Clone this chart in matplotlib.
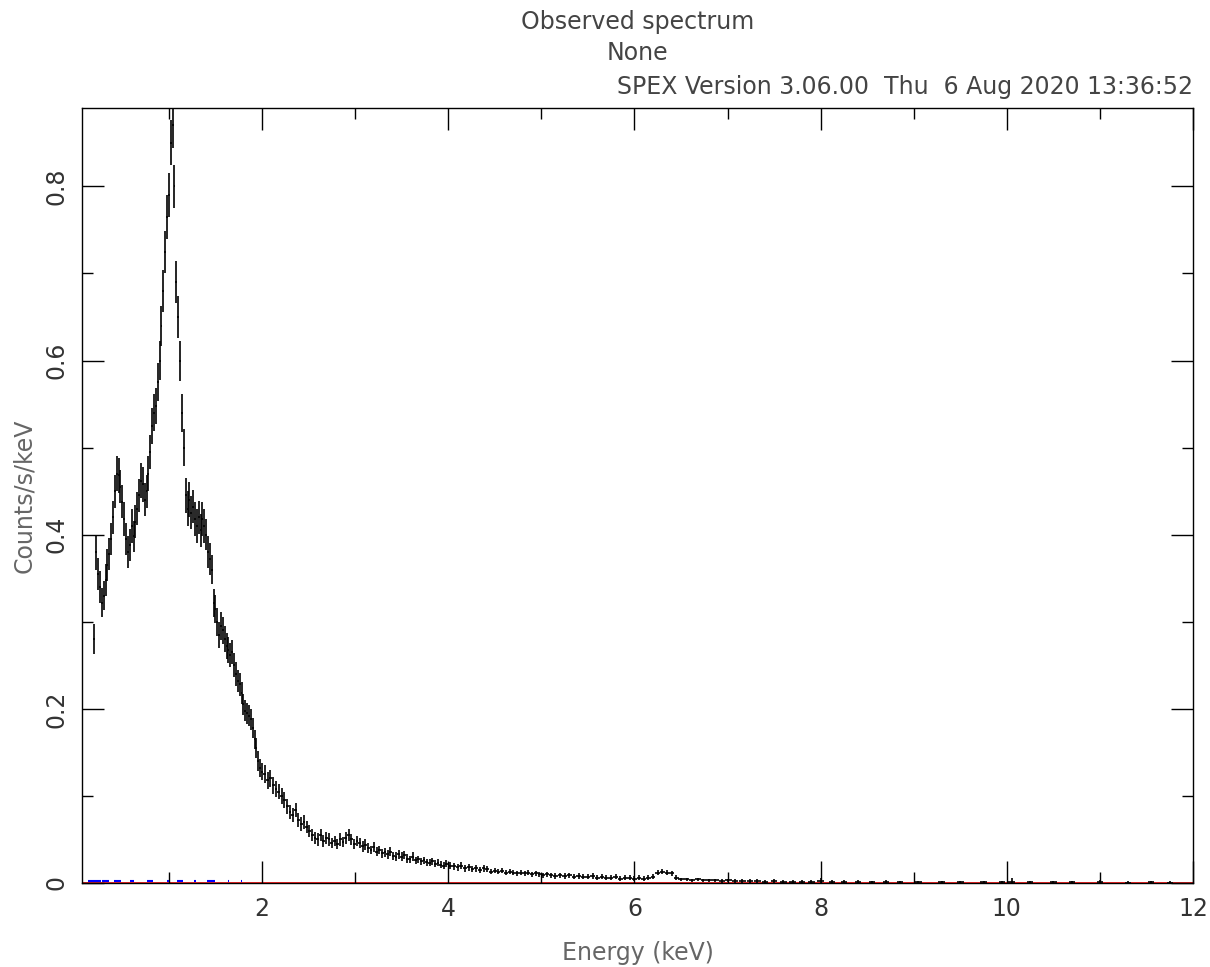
import numpy as np
from matplotlib import pyplot as plt
from matplotlib.ticker import MultipleLocator

# observed spectrum (keV, counts/s/keV, 1-sigma)
energy = [
    0.20, 0.22, 0.24, 0.26, 0.28, 0.30, 0.32, 0.34, 0.36, 0.38,
    0.40, 0.42, 0.44, 0.46, 0.48, 0.50, 0.52, 0.54, 0.56, 0.58,
    0.60, 0.62, 0.64, 0.66, 0.68, 0.70, 0.72, 0.74, 0.76, 0.78,
    0.80, 0.82, 0.84, 0.86, 0.88, 0.90, 0.92, 0.94, 0.96, 0.98,
    1.00, 1.02, 1.04, 1.06, 1.08, 1.10, 1.12, 1.14, 1.16, 1.18,
    1.20, 1.22, 1.24, 1.26, 1.28, 1.30, 1.32, 1.34, 1.36, 1.38,
    1.40, 1.42, 1.44, 1.46, 1.48, 1.50, 1.52, 1.54, 1.56, 1.58,
    1.60, 1.62, 1.64, 1.66, 1.68, 1.70, 1.72, 1.74, 1.76, 1.78,
    1.80, 1.82, 1.84, 1.86, 1.88, 1.90, 1.92, 1.94, 1.96, 1.98,
    2.00, 2.03, 2.06, 2.09, 2.12, 2.15, 2.18, 2.21, 2.24, 2.27,
    2.30, 2.33, 2.36, 2.39, 2.42, 2.45, 2.48, 2.51, 2.54, 2.57,
    2.60, 2.63, 2.66, 2.69, 2.72, 2.75, 2.78, 2.81, 2.84, 2.87,
    2.90, 2.93, 2.96, 2.99, 3.02, 3.05, 3.08, 3.11, 3.14, 3.17,
    3.20, 3.23, 3.26, 3.29, 3.32, 3.35, 3.38, 3.41, 3.44, 3.47,
    3.50, 3.53, 3.56, 3.59, 3.62, 3.65, 3.68, 3.71, 3.74, 3.77,
    3.80, 3.83, 3.86, 3.89, 3.92, 3.95, 3.98, 4.02, 4.06, 4.10,
    4.14, 4.18, 4.22, 4.26, 4.30, 4.34, 4.38, 4.42, 4.46, 4.50,
    4.54, 4.58, 4.62, 4.66, 4.70, 4.74, 4.78, 4.82, 4.86, 4.90,
    4.94, 4.98, 5.02, 5.06, 5.10, 5.15, 5.20, 5.25, 5.30, 5.35,
    5.40, 5.45, 5.50, 5.55, 5.60, 5.65, 5.70, 5.75, 5.80, 5.85,
    5.90, 5.95, 6.00, 6.05, 6.10, 6.15, 6.20, 6.25, 6.30, 6.35,
    6.40, 6.45, 6.50, 6.56, 6.62, 6.68, 6.74, 6.80, 6.87, 6.94,
    7.01, 7.08, 7.16, 7.24, 7.32, 7.40, 7.50, 7.60, 7.70, 7.80,
    7.90, 8.00, 8.12, 8.25, 8.40, 8.55, 8.70, 8.85, 9.05, 9.30,
    9.50, 9.75, 9.95, 10.05, 10.25, 10.50, 10.70, 11.00, 11.30, 11.55,
    11.75,
]
counts = [
    0.280, 0.380, 0.355, 0.340, 0.322, 0.330, 0.348, 0.365, 0.378, 0.395,
    0.420, 0.450, 0.470, 0.468, 0.455, 0.438, 0.418, 0.395, 0.380, 0.388,
    0.410, 0.398, 0.415, 0.430, 0.445, 0.462, 0.458, 0.440, 0.450, 0.470,
    0.495, 0.525, 0.540, 0.548, 0.575, 0.600, 0.640, 0.680, 0.725, 0.765,
    0.790, 0.850, 0.870, 0.800, 0.690, 0.650, 0.600, 0.540, 0.500, 0.445,
    0.430, 0.440, 0.425, 0.432, 0.418, 0.410, 0.420, 0.405, 0.418, 0.410,
    0.400, 0.380, 0.372, 0.360, 0.322, 0.315, 0.300, 0.285, 0.295, 0.290,
    0.280, 0.272, 0.268, 0.262, 0.265, 0.250, 0.240, 0.232, 0.228, 0.218,
    0.205, 0.198, 0.195, 0.192, 0.188, 0.178, 0.165, 0.155, 0.140, 0.132,
    0.128, 0.125, 0.118, 0.120, 0.112, 0.108, 0.105, 0.100, 0.095, 0.088,
    0.082, 0.078, 0.084, 0.072, 0.068, 0.070, 0.064, 0.060, 0.055, 0.052,
    0.050, 0.055, 0.048, 0.052, 0.050, 0.046, 0.048, 0.045, 0.050, 0.047,
    0.052, 0.055, 0.050, 0.045, 0.048, 0.046, 0.042, 0.044, 0.040, 0.038,
    0.041, 0.036, 0.038, 0.034, 0.035, 0.033, 0.036, 0.031, 0.030, 0.033,
    0.030, 0.032, 0.028, 0.027, 0.030, 0.026, 0.027, 0.025, 0.026, 0.024,
    0.023, 0.025, 0.022, 0.023, 0.021, 0.020, 0.022, 0.020, 0.019, 0.018,
    0.020, 0.017, 0.018, 0.016, 0.017, 0.015, 0.017, 0.016, 0.013, 0.014,
    0.013, 0.014, 0.012, 0.013, 0.012, 0.011, 0.012, 0.011, 0.012, 0.010,
    0.011, 0.010, 0.009, 0.010, 0.009, 0.008, 0.009, 0.008, 0.009, 0.007,
    0.008, 0.007, 0.007, 0.008, 0.006, 0.007, 0.006, 0.006, 0.007, 0.005,
    0.006, 0.006, 0.005, 0.006, 0.005, 0.006, 0.007, 0.012, 0.013, 0.012,
    0.011, 0.006, 0.004, 0.004, 0.003, 0.004, 0.003, 0.003, 0.003, 0.002,
    0.003, 0.002, 0.002, 0.002, 0.002, 0.0015, 0.002, 0.0015, 0.0012, 0.0015,
    0.001, 0.002, 0.001, 0.0012, 0.001, 0.0008, 0.001, 0.0008, 0.0008, 0.0006,
    0.0008, 0.0007, 0.0008, 0.0012, 0.0008, 0.0006, 0.0006, 0.0008, 0.0005, 0.0006,
    0.0005,
]
count_err = [
    0.017, 0.020, 0.018, 0.018, 0.017, 0.017, 0.018, 0.018, 0.018, 0.018,
    0.019, 0.019, 0.020, 0.020, 0.019, 0.019, 0.019, 0.018, 0.018, 0.018,
    0.019, 0.018, 0.019, 0.019, 0.019, 0.020, 0.020, 0.019, 0.019, 0.020,
    0.020, 0.021, 0.021, 0.021, 0.022, 0.022, 0.023, 0.024, 0.024, 0.025,
    0.025, 0.026, 0.026, 0.025, 0.024, 0.024, 0.023, 0.022, 0.021, 0.020,
    0.020, 0.020, 0.019, 0.019, 0.019, 0.019, 0.019, 0.019, 0.019, 0.019,
    0.018, 0.018, 0.018, 0.017, 0.016, 0.016, 0.016, 0.015, 0.016, 0.015,
    0.015, 0.015, 0.015, 0.014, 0.014, 0.014, 0.014, 0.013, 0.013, 0.013,
    0.012, 0.012, 0.012, 0.012, 0.012, 0.012, 0.011, 0.011, 0.011, 0.010,
    0.010, 0.010, 0.010, 0.010, 0.010, 0.009, 0.009, 0.009, 0.009, 0.009,
    0.008, 0.008, 0.008, 0.008, 0.008, 0.008, 0.007, 0.007, 0.007, 0.007,
    0.007, 0.007, 0.007, 0.007, 0.007, 0.006, 0.006, 0.006, 0.007, 0.006,
    0.007, 0.007, 0.006, 0.006, 0.006, 0.006, 0.006, 0.006, 0.006, 0.005,
    0.006, 0.005, 0.005, 0.005, 0.005, 0.005, 0.005, 0.005, 0.005, 0.005,
    0.005, 0.005, 0.005, 0.004, 0.005, 0.004, 0.004, 0.004, 0.004, 0.004,
    0.004, 0.004, 0.004, 0.004, 0.004, 0.004, 0.004, 0.004, 0.004, 0.004,
    0.004, 0.004, 0.004, 0.003, 0.004, 0.003, 0.004, 0.003, 0.003, 0.003,
    0.003, 0.003, 0.003, 0.003, 0.003, 0.003, 0.003, 0.003, 0.003, 0.003,
    0.003, 0.003, 0.003, 0.003, 0.003, 0.003, 0.003, 0.003, 0.003, 0.003,
    0.003, 0.003, 0.003, 0.003, 0.003, 0.003, 0.003, 0.003, 0.003, 0.003,
    0.003, 0.003, 0.003, 0.003, 0.003, 0.003, 0.003, 0.003, 0.003, 0.003,
    0.003, 0.003, 0.002, 0.002, 0.002, 0.002, 0.002, 0.002, 0.002, 0.002,
    0.002, 0.002, 0.002, 0.002, 0.002, 0.002, 0.002, 0.002, 0.002, 0.002,
    0.002, 0.004, 0.002, 0.002, 0.002, 0.002, 0.002, 0.002, 0.002, 0.002,
    0.002, 0.002, 0.002, 0.004, 0.002, 0.002, 0.002, 0.003, 0.002, 0.002,
    0.002,
]

# background (blue) bins near zero
bg_energy = [0.20, 0.32, 0.45, 0.60, 0.80, 0.99, 1.12, 1.28, 1.45, 1.64, 1.78]
bg_counts = [0.002, 0.002, 0.002, 0.002, 0.002, 0.002, 0.002, 0.002, 0.002, 0.002, 0.002]
bg_width = [0.07, 0.04, 0.04, 0.02, 0.03, 0.01, 0.03, 0.01, 0.04, 0.01, 0.01]

title = 'Observed spectrum'
subtitle = 'None'
stamp = 'SPEX Version 3.06.00  Thu  6 Aug 2020 13:36:52'

plt.rcParams['font.family'] = ['DejaVu Sans']

fig = plt.figure(figsize=(12.1, 9.67), dpi=100)
ax = fig.add_axes([0.0678, 0.0869, 0.9182, 0.8014])

e = np.array(energy)
half = np.minimum(np.gradient(e) / 2, 0.035)

ax.axhline(0, color='red', lw=1.2, zorder=1)
ax.errorbar(bg_energy, bg_counts, xerr=bg_width, fmt='none', ecolor='blue',
            elinewidth=1.5, zorder=2)
ax.errorbar(e, counts, yerr=count_err, xerr=half, fmt='none', ecolor='black',
            elinewidth=1.2, zorder=3)

ax.set_xlim(0.067, 12)
ax.set_ylim(0, 0.89)
ax.xaxis.set_major_locator(MultipleLocator(2))
ax.xaxis.set_minor_locator(MultipleLocator(1))
ax.yaxis.set_minor_locator(MultipleLocator(0.1))
ax.set_yticks([0, 0.2, 0.4, 0.6, 0.8])
ax.set_yticklabels(['0', '0.2', '0.4', '0.6', '0.8'], rotation=90, va='center')
ax.tick_params(which='both', direction='in', top=True, right=True,
               labelsize=17, colors='black', labelcolor='#333333', pad=10)
ax.tick_params(which='major', length=16, width=1)
ax.tick_params(which='minor', length=8, width=1)
for s in ax.spines.values():
    s.set_linewidth(1.0)

ax.set_xlabel('Energy (keV)', fontsize=17, color='#666666', va='center')
ax.set_ylabel('Counts/s/keV', fontsize=17, color='#666666', va='center')
ax.xaxis.set_label_coords(0.5, -0.090)
ax.yaxis.set_label_coords(-0.052, 0.5)

fig.text(0.527, 0.977, title, fontsize=17, color='#444444', ha='center', va='center')
fig.text(0.527, 0.945, subtitle, fontsize=17, color='#444444', ha='center', va='center')
fig.text(0.986, 0.910, stamp, fontsize=17, color='#444444', ha='right', va='center')

plt.savefig('out.png', dpi=100)
